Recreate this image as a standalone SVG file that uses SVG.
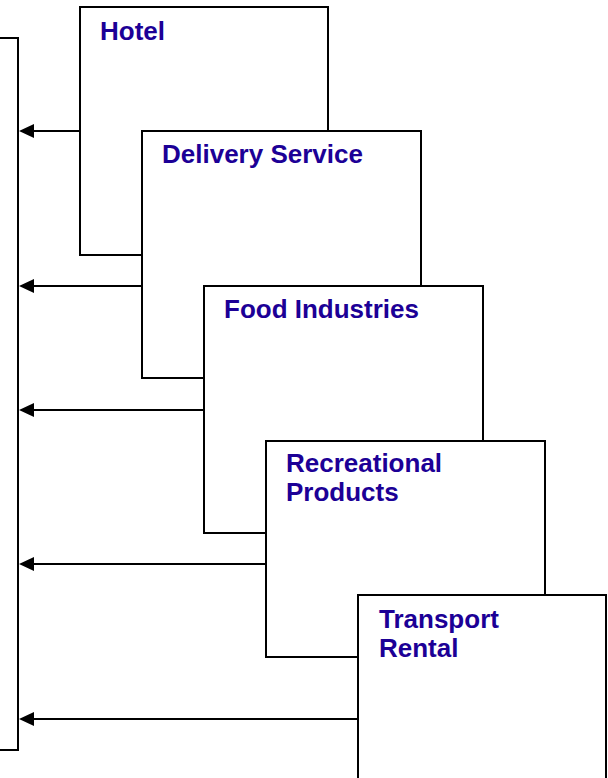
<svg xmlns="http://www.w3.org/2000/svg" width="608" height="778" viewBox="0 0 608 778">
<defs>
<style>
.box{fill:#fff;stroke:#000;stroke-width:2}
.lbl{font-family:"Liberation Sans",Arial,sans-serif;font-weight:bold;font-size:26px;fill:#1c0096}
.con{stroke:#000;stroke-width:2;fill:none}
.ah{fill:#000}
</style>
</defs>
<rect width="608" height="778" fill="#fff"/>
<g id="target">
<path class="con" d="M-5 38H18V750H-5"/>
</g>
<g id="hotel">
<rect class="box" x="80" y="7" width="248" height="248"/>
<text class="lbl" x="100" y="40">Hotel</text>
</g>
<g id="delivery">
<rect class="box" x="142" y="131" width="279" height="247"/>
<text class="lbl" x="162" y="163">Delivery Service</text>
</g>
<g id="food">
<rect class="box" x="204" y="286" width="279" height="247"/>
<text class="lbl" x="224" y="318">Food Industries</text>
</g>
<g id="recreational">
<rect class="box" x="266" y="441" width="279" height="216"/>
<text class="lbl" x="286" y="472">Recreational</text>
<text class="lbl" x="286" y="501">Products</text>
</g>
<g id="transport">
<rect class="box" x="358" y="595" width="248" height="220"/>
<text class="lbl" x="379" y="628">Transport</text>
<text class="lbl" x="379" y="657">Rental</text>
</g>
<g id="connectors">
<path class="con" d="M80 131H32"/>
<path class="ah" d="M19 131L34 124V138Z"/>
<path class="con" d="M142 286H32"/>
<path class="ah" d="M19 286L34 279V293Z"/>
<path class="con" d="M204 410H32"/>
<path class="ah" d="M19 410L34 403V417Z"/>
<path class="con" d="M266 564H32"/>
<path class="ah" d="M19 564L34 557V571Z"/>
<path class="con" d="M358 719H32"/>
<path class="ah" d="M19 719L34 712V726Z"/>
</g>
</svg>
